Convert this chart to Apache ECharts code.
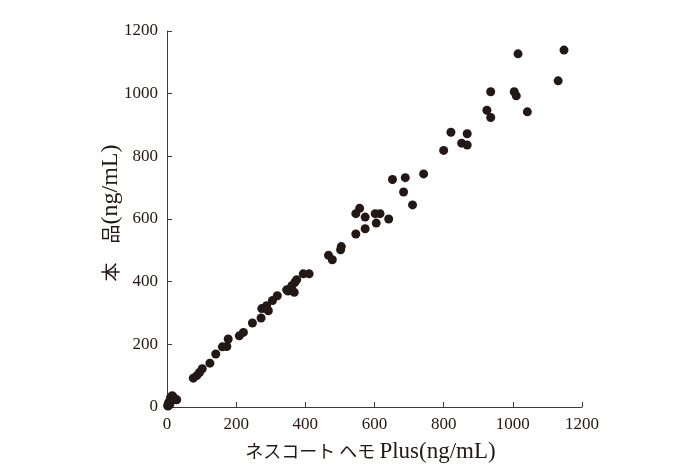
<!doctype html>
<html>
<head>
<meta charset="utf-8">
<script src="https://cdn.jsdelivr.net/npm/echarts@6/dist/echarts.min.js"></script>
<style>
  html, body { margin: 0; padding: 0; background: #fff; }
  #main { width: 681px; height: 473px; }
</style>
</head>
<body>
<div id="main"></div>
<script>
// ネスコート ヘモ Plus (x) vs 本品 (y), ng/mL
var xVals = [
  1148, 1015, 1131, 936, 1004, 1010, 1042, 925, 936,
  821, 868, 852, 868, 800, 742, 652, 689, 684, 710,
  557, 546, 573, 602, 616, 641, 605, 573, 546,
  504, 502, 467, 478, 394, 411, 375, 370, 361, 346, 356, 368, 350,
  319, 305, 288, 274, 284, 293, 272, 247, 221, 209, 177, 173, 160,
  141, 124, 102, 94, 86, 76,
  15, 28, 10, 20, 25, 5, 8, 3, 12, 2, 18
];
var yVals = [
  1139, 1127, 1041, 1006, 1006, 993, 942, 947, 924,
  877, 872, 842, 836, 819, 744, 726, 732, 686, 645,
  634, 617, 606, 617, 617, 600, 587, 569, 552,
  512, 502, 484, 470, 425, 425, 406, 398, 387, 374, 376, 366, 370,
  355, 340, 323, 314, 316, 307, 284, 268, 238, 227, 217, 193, 192,
  169, 140, 122, 110, 100, 92,
  36, 23, 30, 28, 25, 15, 8, 3, 20, 5, 32
];
var tickMin = 0, tickMax = 1200, tickStep = 200;

var points = xVals.map(function (x, i) { return [x, yVals[i]]; });

var myChart = echarts.init(document.getElementById('main'));
var axisColor = '#3e3a39';
var ink = '#231815';
var serif = '"Liberation Serif", serif';
var cjk = '"Noto Sans CJK JP", sans-serif';
var nameRich = {
  jp: { color: ink, fontSize: 18, fontFamily: cjk },
  en: { color: ink, fontSize: 23, fontFamily: serif }
};
var yNameRich = {
  jp: { color: ink, fontSize: 19, fontFamily: cjk },
  en: { color: ink, fontSize: 24, fontFamily: serif }
};
option = {
  animation: false,
  grid: { left: 167, right: 99, top: 31, bottom: 66 },
  xAxis: {
    type: 'value', min: tickMin, max: tickMax, interval: tickStep,
    name: '{jp|ネスコート ヘモ }{en|Plus(ng/mL)}',
    nameLocation: 'middle', nameGap: 33,
    nameTextStyle: { rich: nameRich, padding: [0, 8, 0, 0] },
    axisLine: { show: true, lineStyle: { color: axisColor, width: 1 } },
    axisTick: { show: true, inside: true, length: 5, lineStyle: { color: axisColor } },
    axisLabel: { color: ink, fontSize: 17, fontFamily: serif, margin: 9,
      formatter: function (v) { return String(v); } },
    splitLine: { show: false }
  },
  yAxis: {
    type: 'value', min: tickMin, max: tickMax, interval: tickStep,
    name: '{jp|本　品}{en|(ng/mL)}',
    nameLocation: 'middle', nameGap: 44, nameMoveOverlap: false,
    nameTextStyle: { rich: yNameRich, padding: [0, 0, 0, 12] },
    axisLine: { show: true, lineStyle: { color: axisColor, width: 1 } },
    axisTick: { show: true, inside: true, length: 5, lineStyle: { color: axisColor } },
    axisLabel: { color: ink, fontSize: 17, fontFamily: serif, margin: 9,
      formatter: function (v) { return String(v); } },
    splitLine: { show: false }
  },
  series: [{
    type: 'scatter',
    data: points,
    symbolSize: 9,
    itemStyle: { color: ink, opacity: 1 }
  }]
};
myChart.setOption(option);
</script>
</body>
</html>
